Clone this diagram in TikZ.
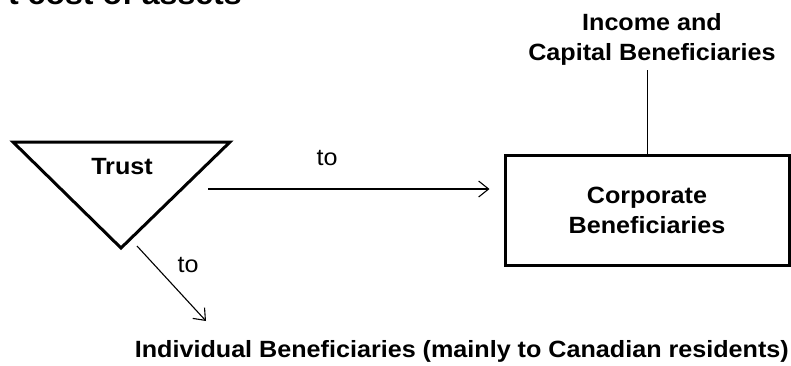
\documentclass[tikz,border=0pt]{standalone}
\usepackage{fontspec}
\setmainfont{Liberation Sans}[FakeStretch=1.07]
\usetikzlibrary{calc}
\usetikzlibrary{positioning}
\usetikzlibrary{arrows.meta}
\tikzstyle{heading} = [font=\fontsize{30}{32}\selectfont\bfseries, inner sep=0pt]
\tikzstyle{party} = [font=\fontsize{23.5}{30}\selectfont\bfseries, align=center,
    inner sep=0pt]
\tikzstyle{corp} = [rectangle, draw, line width=3pt, minimum width=284pt,
    minimum height=110pt, font=\fontsize{23.5}{30}\selectfont\bfseries, align=center]
\tikzstyle{tolabel} = [font=\fontsize{23.5}{30}\selectfont, inner sep=0pt]
\tikzstyle{trust} = [draw, line width=3pt, line join=miter]
\tikzstyle{line} = [draw, line width=1.1pt, -{Straight Barb[length=10pt,width=16pt]}]
\tikzstyle{stem} = [draw, line width=1pt]

\begin{document}
\begin{tikzpicture}[x=1pt, y=-1pt]
    \useasboundingbox (0,0) rectangle (791,365);
    \clip (0,0) rectangle (791,365);
    % Place nodes
    \node [heading, anchor=base east] (title) at (242,4) {t cost of assets};
    \node [party, anchor=base] (trustlabel) at (122,174) {Trust};
    \node [corp] (corp) at (647,210) {Corporate\\Beneficiaries};
    \node [party] (income) at (652,39) {Income and\\Capital Beneficiaries};
    \node [party, anchor=base east] (indiv) at (789,357)
        {Individual Beneficiaries (mainly to Canadian residents)};
    \node [tolabel, anchor=base] (to1) at (327,165) {to};
    \node [tolabel, anchor=base] (to2) at (188,272) {to};
    % Draw trust triangle
    \coordinate (tl) at (13,142);
    \coordinate (tr) at (230,142);
    \coordinate (tip) at (121,248);
    \draw [trust] (tl) -- (tr) -- (tip) -- cycle;
    % Draw edges
    \coordinate (hstart) at (208,189);
    \coordinate (dstart) at (137,246);
    \coordinate (dend) at (206,321);
    \path [line, shorten >=14pt] (hstart) -- (corp.west |- hstart);
    \path [line] (dstart) -- (dend);
    \path [stem, shorten >=5pt] (corp.north) -- (corp.north |- income.south);
\end{tikzpicture}
\end{document}
